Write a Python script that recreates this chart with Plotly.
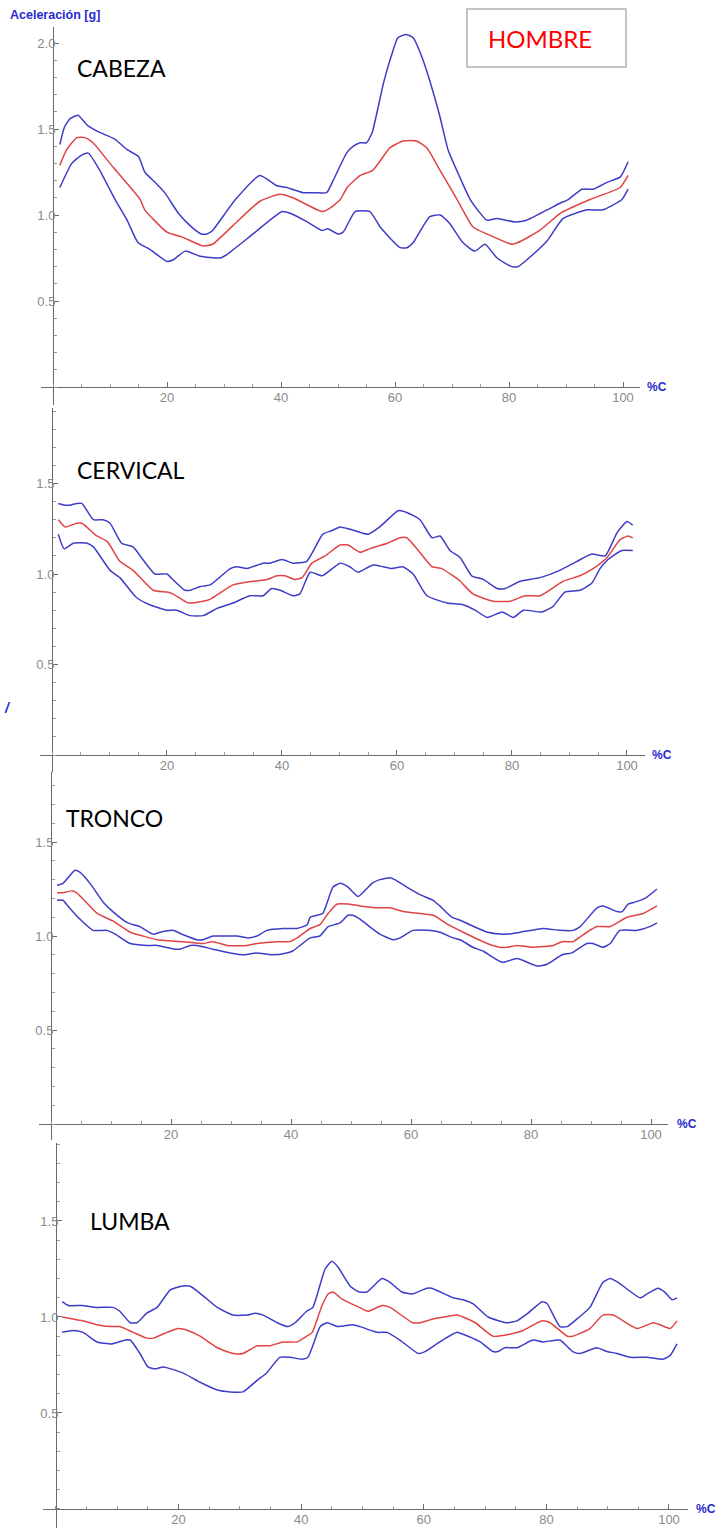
import plotly.graph_objects as go

W, H = 718, 1528

# ---- data: x = % of cycle, y = acceleration [g] ----
# CABEZA
cab_up_x = [1.2, 2, 3, 4.4, 5, 6.1, 8.2, 10.9, 13, 15, 16.1, 17.9, 19.6, 22, 24, 26, 27, 28, 30, 32,
            36.3, 39.3, 41, 43.9, 46, 48, 49, 51.5, 52.7, 53.9, 55, 56, 58, 59.5, 60.5, 62, 63.2, 64.7, 66.1, 67.9,
            69.3, 71.1, 73.2, 76.1, 77.9, 81, 83.1, 86.7, 89, 90.4, 92.8, 94.8, 97.2, 99.5, 100.9]
cab_up_y = [1.41, 1.51, 1.56, 1.58, 1.56, 1.52, 1.48, 1.44, 1.38, 1.34, 1.25, 1.19, 1.13, 1.01, 0.94, 0.89, 0.89, 0.91, 1.0, 1.09,
            1.23, 1.17, 1.16, 1.13, 1.13, 1.13, 1.19, 1.36, 1.40, 1.42, 1.42, 1.48, 1.77, 1.94, 2.03, 2.05, 2.03, 1.92, 1.78, 1.57,
            1.38, 1.24, 1.09, 0.97, 0.98, 0.96, 0.97, 1.03, 1.07, 1.09, 1.15, 1.15, 1.19, 1.22, 1.31]
cab_mid_x = [1.2, 2.4, 4.2, 5.6, 7, 10.5, 15.3, 16.1, 20, 22.8, 26.3, 28, 31.6, 36.3, 39.8, 42.1, 47.2, 48.6, 50.4, 51.6,
             53.9, 56.1, 59.1, 61.4, 63.8, 65.6, 67.9, 70.9, 73.7, 76.1, 80.5, 81.6, 85.4, 89, 94.2, 99.5, 100.9]
cab_mid_y = [1.29, 1.38, 1.45, 1.45, 1.42, 1.28, 1.09, 1.03, 0.90, 0.87, 0.82, 0.83, 0.94, 1.08, 1.12, 1.10, 1.02, 1.04, 1.09, 1.16,
             1.23, 1.26, 1.39, 1.43, 1.43, 1.39, 1.26, 1.09, 0.93, 0.89, 0.83, 0.84, 0.91, 1.01, 1.09, 1.16, 1.23]
cab_lo_x = [1.2, 3.3, 5.1, 6.2, 8.2, 10.9, 13, 14.9, 17, 20, 21.1, 23.2, 25.8, 29.3, 30.5, 35.1, 40.2, 41.6, 44.6, 47.2,
            48.2, 50, 50.9, 53, 55.6, 57.4, 60.9, 62.1, 63.2, 66.1, 67.9, 69.6, 71.9, 74, 75.8, 77.9, 80.5, 81.6, 84.2, 86.7,
            89.5, 93.7, 96.5, 99.8, 100.9]
cab_lo_y = [1.16, 1.30, 1.35, 1.36, 1.26, 1.09, 0.97, 0.84, 0.80, 0.73, 0.74, 0.79, 0.76, 0.75, 0.77, 0.89, 1.02, 1.01, 0.96, 0.91,
            0.92, 0.89, 0.90, 1.02, 1.02, 0.93, 0.81, 0.81, 0.84, 0.99, 1.0, 0.95, 0.84, 0.79, 0.83, 0.75, 0.70, 0.70, 0.77, 0.85,
            0.98, 1.03, 1.03, 1.09, 1.15]

# CERVICAL
cer_up_x = [1.1, 2.3, 3.1, 4.3, 5.2, 7.2, 8.9, 10.1, 12.1, 14.1, 15.8, 17.9, 20, 21, 23.1, 24, 25.7, 27.5, 31, 32.2,
            33.9, 36.7, 37.9, 40, 41.9, 44.3, 47.1, 48.7, 50.1, 51.5, 53.6, 55, 57, 60.2, 61.7, 64, 66.1, 67.5, 69.2, 71,
            73, 75, 77.4, 78.8, 81.4, 84.9, 88.3, 91.3, 93.9, 96.2, 98.3, 100, 101]
cer_up_y = [1.39, 1.38, 1.38, 1.39, 1.39, 1.30, 1.30, 1.28, 1.17, 1.15, 1.08, 1.0, 1.0, 0.97, 0.91, 0.91, 0.93, 0.94, 1.03, 1.04,
            1.03, 1.06, 1.06, 1.08, 1.06, 1.07, 1.22, 1.24, 1.26, 1.25, 1.23, 1.22, 1.26, 1.35, 1.34, 1.30, 1.20, 1.21, 1.13, 1.09,
            0.99, 0.97, 0.92, 0.92, 0.96, 0.98, 1.02, 1.07, 1.11, 1.10, 1.23, 1.29, 1.27]
cer_mid_x = [1.1, 2.3, 4.3, 5.2, 7.8, 9.6, 11.8, 14.1, 17.6, 20, 21, 23.7, 26.3, 27.5, 31.5, 35, 37.4, 39.1, 40.5, 42.3,
             43.5, 45.2, 47.5, 50.1, 51.5, 53.6, 55.3, 58.3, 60.5, 61.7, 63.7, 66.1, 67.8, 71, 73.2, 76.7, 79.7, 82.3, 84.9, 88.9,
             91.8, 94.1, 96.5, 98.8, 100.2, 101]
cer_mid_y = [1.30, 1.26, 1.28, 1.28, 1.21, 1.18, 1.07, 1.02, 0.91, 0.90, 0.89, 0.84, 0.85, 0.86, 0.94, 0.96, 0.97, 0.99, 0.99, 0.97,
             0.98, 1.06, 1.10, 1.16, 1.16, 1.12, 1.14, 1.17, 1.20, 1.20, 1.13, 1.04, 1.03, 0.96, 0.89, 0.85, 0.85, 0.88, 0.88, 0.96,
             0.99, 1.03, 1.09, 1.19, 1.21, 1.20]
cer_lo_x = [1.1, 2.1, 3.7, 6.1, 7.2, 10.1, 11.8, 14.7, 17, 20, 21.7, 24, 26.3, 28.7, 31.5, 34.4, 36.7, 38.2, 39.7, 41.9,
            43.1, 44.9, 47, 50.1, 51.8, 53.2, 55.8, 57.6, 59.1, 61, 62.8, 65.2, 68.7, 71.5, 73.6, 75.7, 78.3, 80.2, 82, 85.2,
            87.1, 89.2, 91.8, 93.9, 95.3, 96.7, 99.1, 101]
cer_lo_y = [1.22, 1.14, 1.17, 1.17, 1.15, 1.02, 0.98, 0.87, 0.83, 0.80, 0.80, 0.77, 0.77, 0.81, 0.84, 0.88, 0.88, 0.92, 0.91, 0.88,
            0.89, 1.01, 0.99, 1.06, 1.04, 1.01, 1.05, 1.04, 1.03, 1.04, 1.0, 0.88, 0.84, 0.83, 0.80, 0.76, 0.79, 0.76, 0.80, 0.79,
            0.82, 0.90, 0.91, 0.95, 1.03, 1.08, 1.13, 1.13]

# TRONCO
tro_up_x = [1, 2, 4, 4.8, 6.5, 8.7, 10.3, 12.8, 14.8, 17, 18.2, 20.3, 21.8, 24.3, 25.3, 27, 28.7, 31, 32.8, 34.3,
            36, 38.7, 41, 42.7, 43.2, 44.3, 45.3, 47, 48.2, 49.5, 51.2, 53.5, 54.8, 56.5, 57.3, 59.3, 61.5, 63.7, 64.8, 66.8,
            68.5, 69.8, 72.8, 74.8, 76.2, 78.2, 82, 84.8, 87, 88.2, 91, 92, 94.3, 95.2, 96.2, 97.3, 99, 101]
tro_up_y = [1.27, 1.28, 1.35, 1.34, 1.28, 1.18, 1.13, 1.07, 1.05, 1.01, 1.02, 1.03, 1.01, 0.98, 0.98, 1.0, 1.0, 1.0, 0.99, 1.0,
            1.03, 1.04, 1.04, 1.06, 1.10, 1.11, 1.12, 1.26, 1.28, 1.26, 1.21, 1.28, 1.30, 1.31, 1.30, 1.26, 1.22, 1.19, 1.16, 1.10,
            1.08, 1.06, 1.02, 1.01, 1.01, 1.02, 1.04, 1.03, 1.03, 1.05, 1.15, 1.16, 1.13, 1.13, 1.17, 1.18, 1.20, 1.25]
tro_mid_x = [1, 2, 3.5, 4.3, 7.7, 10.3, 13.2, 15.3, 17.7, 22, 25.3, 27, 29.3, 32.7, 34.3, 37.7, 39.8, 41, 43.2, 44.8,
             46.2, 47.7, 49.5, 51.5, 54.8, 56.5, 58.7, 61.5, 63.7, 66.2, 68.7, 72.7, 74.8, 76, 77.7, 80.3, 83.7, 85.2, 87, 89.3,
             91, 93.2, 96, 98.7, 101]
tro_mid_y = [1.23, 1.23, 1.24, 1.23, 1.12, 1.08, 1.02, 1.0, 0.98, 0.97, 0.96, 0.97, 0.95, 0.95, 0.96, 0.97, 0.97, 0.99, 1.04, 1.06,
             1.12, 1.17, 1.17, 1.16, 1.15, 1.15, 1.13, 1.12, 1.11, 1.06, 1.02, 0.96, 0.94, 0.94, 0.95, 0.94, 0.95, 0.97, 0.97, 1.02,
             1.05, 1.05, 1.10, 1.12, 1.16]
tro_lo_x = [1, 2, 2.8, 4.8, 7, 9.3, 10.7, 13.2, 16, 17.7, 20.7, 21.5, 23.2, 24.3, 27, 29.8, 32.3, 34.3, 36.8, 39.3,
            40.3, 43.2, 44.8, 46.2, 48.2, 49.5, 50.3, 51.5, 53.5, 54.8, 57, 58.2, 60.3, 62.7, 64.8, 67, 68.2, 70.3, 72, 75.2,
            77.7, 81, 82.7, 85.2, 86.8, 89.3, 90.3, 92, 93.2, 94.8, 97.7, 99.8, 101]
tro_lo_y = [1.19, 1.19, 1.16, 1.09, 1.03, 1.03, 1.01, 0.96, 0.95, 0.95, 0.93, 0.93, 0.95, 0.95, 0.93, 0.91, 0.90, 0.91, 0.90, 0.91,
            0.92, 0.99, 1.0, 1.05, 1.07, 1.11, 1.11, 1.09, 1.04, 1.01, 0.98, 0.99, 1.03, 1.03, 1.02, 0.99, 0.98, 0.94, 0.92, 0.86,
            0.88, 0.84, 0.85, 0.90, 0.91, 0.96, 0.96, 0.94, 0.96, 1.03, 1.03, 1.05, 1.07]

# LUMBA
lum_up_x = [1, 2, 4.2, 6.7, 9.3, 10.4, 12.1, 13.2, 14.8, 16.5, 18.6, 20.5, 21.9, 24, 26.3, 28.9, 31.2, 32.5, 33.8, 36.1,
            37.8, 39, 40.9, 41.9, 43.9, 45, 46, 48, 49.5, 50.7, 53.2, 54.5, 56.4, 58.1, 60.5, 61.3, 64.8, 66.4, 68, 70.5,
            73.6, 75.2, 77, 79.3, 80.1, 82.2, 83.4, 85, 87.1, 89.2, 90.4, 91.7, 95.3, 96.4, 98.2, 99.3, 100.5, 101.3]
lum_up_y = [1.08, 1.06, 1.06, 1.05, 1.05, 1.03, 0.97, 0.97, 1.02, 1.05, 1.14, 1.16, 1.16, 1.11, 1.05, 1.01, 1.01, 1.02, 1.01, 0.97,
            0.95, 0.97, 1.03, 1.05, 1.25, 1.29, 1.26, 1.16, 1.13, 1.13, 1.20, 1.18, 1.13, 1.12, 1.15, 1.15, 1.10, 1.09, 1.07, 1.0,
            0.97, 0.98, 1.02, 1.08, 1.07, 0.95, 0.95, 0.99, 1.05, 1.18, 1.20, 1.18, 1.10, 1.12, 1.15, 1.13, 1.09, 1.10]
lum_mid_x = [1, 2.8, 4.4, 6.7, 8.8, 10.4, 12.6, 14.8, 15.9, 18.1, 19.9, 21.5, 23.5, 26.3, 28.9, 30.5, 32.8, 34.9, 37, 39.3,
             40.9, 41.8, 43.4, 44.4, 45.2, 46.8, 49.5, 50.9, 53.2, 54.5, 58.2, 59.4, 61.5, 65.4, 66.4, 68.4, 71.3, 74, 76.2, 79.3,
             80.6, 83.4, 84.3, 87.1, 89.2, 90.9, 94.8, 97.4, 98.5, 100.2, 101.3]
lum_mid_y = [1.0, 0.99, 0.98, 0.96, 0.95, 0.95, 0.92, 0.89, 0.89, 0.92, 0.94, 0.93, 0.90, 0.84, 0.81, 0.81, 0.85, 0.85, 0.87, 0.87,
             0.90, 0.92, 1.06, 1.12, 1.13, 1.09, 1.05, 1.03, 1.06, 1.05, 0.97, 0.97, 0.99, 1.01, 1.0, 0.97, 0.90, 0.91, 0.93, 0.98,
             0.97, 0.90, 0.90, 0.94, 1.01, 1.01, 0.94, 0.97, 0.96, 0.94, 0.98]
lum_lo_x = [1, 2.8, 4.4, 6.7, 9.1, 11.3, 12.1, 13.7, 15, 16.2, 17.5, 20.6, 23.5, 26.3, 28.4, 30.5, 32.8, 34.4, 36.5, 38.2,
            40.1, 41.1, 43.1, 44.2, 46, 48.4, 49.6, 52.4, 54, 56.1, 59.1, 60.2, 62.6, 65.4, 66.4, 69.2, 71.3, 72.1, 73.2, 75.2,
            77.8, 79.4, 82.2, 84.3, 85.5, 88.2, 89.9, 91.5, 93.6, 96.4, 99, 100.2, 101.3]
lum_lo_y = [0.92, 0.93, 0.92, 0.87, 0.86, 0.88, 0.88, 0.81, 0.74, 0.73, 0.74, 0.71, 0.66, 0.62, 0.61, 0.61, 0.67, 0.71, 0.79, 0.79,
            0.78, 0.79, 0.95, 0.97, 0.95, 0.96, 0.95, 0.92, 0.92, 0.88, 0.81, 0.82, 0.87, 0.92, 0.91, 0.87, 0.82, 0.82, 0.84, 0.84,
            0.88, 0.87, 0.88, 0.82, 0.81, 0.84, 0.82, 0.81, 0.79, 0.79, 0.78, 0.80, 0.86]

panel_names = ["CABEZA", "CERVICAL", "TRONCO", "LUMBA"]
x_ticks = [20, 40, 60, 80, 100]
y_ticks = [0.5, 1.0, 1.5, 2.0]

series = [
    [(cab_up_x, cab_up_y), (cab_mid_x, cab_mid_y), (cab_lo_x, cab_lo_y)],
    [(cer_up_x, cer_up_y), (cer_mid_x, cer_mid_y), (cer_lo_x, cer_lo_y)],
    [(tro_up_x, tro_up_y), (tro_mid_x, tro_mid_y), (tro_lo_x, tro_lo_y)],
    [(lum_up_x, lum_up_y), (lum_mid_x, lum_mid_y), (lum_lo_x, lum_lo_y)],
]

# pixel frame of each panel: origin, px per unit, axis ranges, label position
frames = [
    dict(ox=53, oy=387, sx=5.70, sy=172, xr=(-2.1, 103.0), yr=(-0.105, 2.093), lab=(75, 68.5), pc=645),
    dict(ox=52, oy=755, sx=5.75, sy=181, xr=(-2.1, 103.1), yr=(-0.12, 1.917), lab=(75, 470), pc=650),
    dict(ox=51, oy=1124, sx=6.00, sy=188, xr=(-2.0, 102.8), yr=(-0.085, 1.87), lab=(64, 818), pc=675),
    dict(ox=56, oy=1509, sx=6.13, sy=192, xr=(-2.1, 103.1), yr=(-0.098, 1.906), lab=(88, 1221), pc=694),
]

BLUE = "#3d3dc8"
RED = "#e04444"
AXIS = "#6a6a6a"
TICKFONT = dict(family="Liberation Sans, Arial, sans-serif", size=13, color="#8a8a8a")


def clamp(v):
    return min(1.0, max(0.0, v))


fig = go.Figure()
layout = {}
annotations = []

for i, (name, fr, trio) in enumerate(zip(panel_names, frames, series)):
    n = "" if i == 0 else str(i + 1)
    for (xs, ys), col in zip(trio, [BLUE, RED, BLUE]):
        fig.add_trace(go.Scatter(
            x=xs, y=ys, mode="lines",
            line=dict(color=col, width=1.5, shape="spline", smoothing=0.5),
            xaxis="x" + n, yaxis="y" + n, showlegend=False, hoverinfo="skip",
        ))

    xd = [clamp((fr["ox"] + fr["sx"] * fr["xr"][0]) / W), clamp((fr["ox"] + fr["sx"] * fr["xr"][1]) / W)]
    yd = [clamp(1 - (fr["oy"] - fr["sy"] * fr["yr"][0]) / H), clamp(1 - (fr["oy"] - fr["sy"] * fr["yr"][1]) / H)]

    layout["xaxis" + n] = dict(
        domain=xd, range=list(fr["xr"]), anchor="free", position=1 - fr["oy"] / H,
        showline=True, linecolor=AXIS, linewidth=1, showgrid=False, zeroline=False,
        ticks="inside", ticklen=5, tickcolor=AXIS, tickvals=x_ticks, tickfont=TICKFONT,
        ticklabelstandoff=-2,
        minor=dict(ticks="inside", dtick=5, tick0=0, ticklen=3, tickcolor="#999999", showgrid=False),
    )
    layout["yaxis" + n] = dict(
        domain=yd, range=list(fr["yr"]), anchor="free", position=fr["ox"] / W,
        showline=True, linecolor=AXIS, linewidth=1, showgrid=False, zeroline=False,
        ticks="inside", ticklen=5, tickcolor=AXIS, tickvals=y_ticks, tickformat=".1f",
        tickfont=TICKFONT, ticklabelstandoff=-5,
        minor=dict(ticks="inside", dtick=0.1, tick0=0, ticklen=3, tickcolor="#999999", showgrid=False),
    )

    annotations.append(dict(
        text=name, xref="paper", yref="paper", x=fr["lab"][0] / W, y=1 - fr["lab"][1] / H,
        xanchor="left", yanchor="middle", showarrow=False,
        font=dict(family="Lato, Open Sans, sans-serif", size=23, color="#000000"),
    ))
    annotations.append(dict(
        text="<b>%C</b>", xref="paper", yref="paper", x=fr["pc"] / W, y=1 - fr["oy"] / H,
        xanchor="left", yanchor="middle", showarrow=False,
        font=dict(family="Liberation Sans, Arial, sans-serif", size=12, color="#2a2ad0"),
    ))

annotations.append(dict(
    text="<b>Aceleración [g]</b>", xref="paper", yref="paper", x=8 / W, y=1 - 15 / H,
    xanchor="left", yanchor="middle", showarrow=False,
    font=dict(family="Liberation Sans, Arial, sans-serif", size=12.5, color="#2a2ad0"),
))
annotations.append(dict(
    text="<b><i>/</i></b>", xref="paper", yref="paper", x=2 / W, y=1 - 708 / H,
    xanchor="left", yanchor="middle", showarrow=False,
    font=dict(family="Liberation Sans, Arial, sans-serif", size=14, color="#2a2ad0"),
))
annotations.append(dict(
    text="HOMBRE", xref="paper", yref="paper", x=539.5 / W, y=1 - 38 / H,
    xanchor="center", yanchor="middle", showarrow=False,
    font=dict(family="Lato, Open Sans, sans-serif", size=24, color="#ff0000"),
))

fig.update_layout(
    width=W, height=H,
    margin=dict(l=0, r=0, t=0, b=0),
    paper_bgcolor="white", plot_bgcolor="white",
    showlegend=False,
    annotations=annotations,
    shapes=[dict(type="rect", xref="paper", yref="paper",
                 x0=467 / W, x1=626 / W, y0=1 - 67 / H, y1=1 - 9 / H,
                 line=dict(color="#c4c4c4", width=2))],
    **layout,
)

# page body has an 8px default margin; drop it so the figure fills the window
fig.write_html("out.html", config={"displayModeBar": False},
               post_script="document.body.style.margin='0';document.body.style.overflow='hidden';")
